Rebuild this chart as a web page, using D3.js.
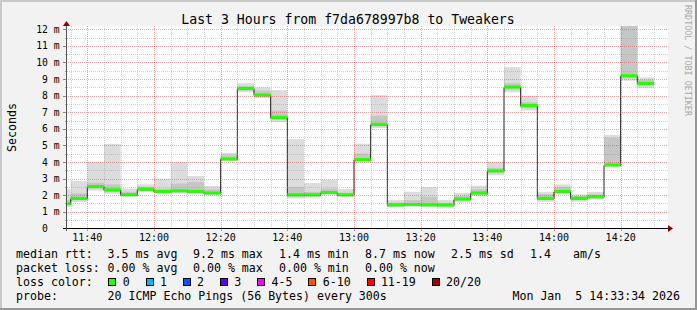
<!DOCTYPE html>
<html><head><meta charset="utf-8">
<script src="https://cdn.jsdelivr.net/npm/d3@7"></script>
<style>
body{margin:0;background:#f2f2f2;}
svg{display:block;}
text{font-family:"DejaVu Sans Mono",monospace;white-space:pre;}
</style>
</head><body>
<svg id="c" width="697" height="310"></svg>
<script>
// ---------- data ----------
const intervalEnds = ["11:35","11:40","11:45","11:50","11:55","12:00","12:05","12:10","12:15","12:20",
  "12:25","12:30","12:35","12:40","12:45","12:50","12:55","13:00","13:05","13:10",
  "13:15","13:20","13:25","13:30","13:35","13:40","13:45","13:50","13:55","14:00",
  "14:05","14:10","14:15","14:20","14:25","14:30"];
const rttMedian = [1.45,1.77,2.49,2.29,2.00,2.33,2.19,2.23,2.20,2.10,
  4.15,8.41,8.01,6.66,1.99,1.99,2.13,1.99,4.11,6.24,
  1.38,1.40,1.38,1.38,1.74,2.10,3.43,8.49,7.37,1.78,
  2.20,1.78,1.87,3.79,9.17,8.71];
const rttMin = [1.30,1.57,2.27,2.08,1.90,2.20,2.10,2.10,2.08,2.00,
  4.05,8.20,7.85,6.40,1.80,1.85,2.00,1.90,3.95,6.05,
  1.27,1.30,1.30,1.20,1.55,1.95,3.20,8.20,7.10,1.60,
  2.05,1.60,1.75,3.70,8.90,8.45];
const rttLow = [1.38,1.68,2.38,2.18,1.95,2.26,2.14,2.17,2.15,2.05,
  4.10,8.30,7.93,6.55,1.90,1.92,2.07,1.95,4.03,6.15,
  1.33,1.35,1.34,1.30,1.65,2.03,3.32,8.35,7.25,1.70,
  2.12,1.70,1.80,3.75,9.05,8.60];
const rttHigh = [1.70,2.10,2.75,2.65,2.20,2.50,2.40,2.70,2.80,2.35,
  4.40,8.55,8.30,7.10,2.50,2.20,2.40,2.15,4.50,6.80,
  1.55,1.70,1.90,1.50,1.95,2.35,3.65,8.75,7.60,2.05,
  2.50,1.95,2.05,5.45,12.20,8.95];
const rttMax = [2.35,2.85,4.00,5.08,2.40,2.65,2.99,4.00,3.15,2.55,
  4.55,8.75,8.50,8.33,5.38,2.73,2.93,2.37,5.10,8.03,
  1.70,2.20,2.49,1.70,2.13,2.57,4.01,9.72,7.99,2.20,
  2.65,2.05,2.19,5.62,12.40,9.10];
const xTickLabels = ["11:40","12:00","12:20","12:40","13:00","13:20","13:40","14:00","14:20"];
const yTickValues = [0,1,2,3,4,5,6,7,8,9,10,11,12];
const yTickLabels = ["0  ","1 m","2 m","3 m","4 m","5 m","6 m","7 m","8 m","9 m","10 m","11 m","12 m"];
const lossLabels = ["0","1","2","3","4-5","6-10","11-19","20/20"];
const lossColors = ["#26ff00","#00b8ff","#0059ff","#5e00ff","#ff00ff","#ff5500","#ff0000","#a00000"];
const titleText = "Last 3 Hours from f7da678997b8 to Tweakers";
const rttLegend = ["median rtt:","3.5 ms avg","9.2 ms max","1.4 ms min","8.7 ms now","2.5 ms sd","1.4","am/s"];
const lossLegend = ["packet loss:","0.00 % avg","0.00 % max","0.00 % min","0.00 % now"];
const probeText = "20 ICMP Echo Pings (56 Bytes) every 300s";
const dateText = "Mon Jan  5 14:33:34 2026";

// ---------- layout ----------
const W = 697, H = 310;
const L = 67, R = 667, T = 26, B = 228;
const parse = d3.utcParse("%Y-%m-%d %H:%M:%S");
const tp = s => parse("2026-01-05 " + (s.length === 5 ? s + ":00" : s));
const x = d3.scaleUtc().domain([tp("11:33:54"), tp("14:33:54")]).range([L, R]);
const y = d3.scaleLinear().domain([0, 12]).range([228.3, 29.3]);
const px = v => Math.round(v) + 0.5;

const svg = d3.select("#c");
// background + frame
svg.append("rect").attr("width", W).attr("height", H).attr("fill", "#f2f2f2");
svg.append("rect").attr("x", 0).attr("y", 0).attr("width", W).attr("height", 2).attr("fill", "#c8c8c8");
svg.append("rect").attr("x", 0).attr("y", 0).attr("width", 2).attr("height", H).attr("fill", "#c8c8c8");
svg.append("rect").attr("x", 0).attr("y", H - 2).attr("width", W).attr("height", 2).attr("fill", "#969696");
svg.append("rect").attr("x", W - 2).attr("y", 0).attr("width", 2).attr("height", H).attr("fill", "#969696");
// canvas
svg.append("rect").attr("x", L).attr("y", T).attr("width", R - L + 1).attr("height", B - T).attr("fill", "#fff");

svg.append("defs").append("clipPath").attr("id", "clip")
  .append("rect").attr("x", L).attr("y", T).attr("width", R - L + 1).attr("height", B - T + 1);

const rows = intervalEnds.map((e, i) => {
  const end = tp(e);
  return {start: d3.utcMinute.offset(end, -5), end, med: rttMedian[i], mn: rttMin[i],
    lo: rttLow[i], hi: rttHigh[i], mx: rttMax[i]};
});

const plot = svg.append("g").attr("clip-path", "url(#clip)");
// smoke
plot.selectAll("rect.outer").data(rows).join("rect")
  .attr("x", d => x(d.start)).attr("width", d => x(d.end) - x(d.start))
  .attr("y", d => y(d.mx)).attr("height", d => y(d.mn) - y(d.mx))
  .attr("fill", "#dcdcdc");
plot.selectAll("rect.inner").data(rows).join("rect")
  .attr("x", d => x(d.start)).attr("width", d => x(d.end) - x(d.start))
  .attr("y", d => y(d.hi)).attr("height", d => y(d.lo) - y(d.hi))
  .attr("fill", "#c6c6c6");

// grid
const grid = svg.append("g").attr("shape-rendering", "crispEdges");
const minorY = d3.range(1, 24, 2).map(v => v / 2);
const minorX = d3.utcMinute.every(5).range(x.domain()[0], x.domain()[1]).filter(t => t.getUTCMinutes() % 20 !== 0);
const majorX = d3.utcMinute.every(20).range(x.domain()[0], x.domain()[1]);
const minC = "rgba(140,140,140,0.38)", majC = "rgba(230,40,40,0.42)";
grid.selectAll("line.mx").data(minorX).join("line")
  .attr("x1", d => px(x(d))).attr("x2", d => px(x(d))).attr("y1", T).attr("y2", B + 2)
  .attr("stroke", minC).attr("stroke-dasharray", "1,1");
grid.selectAll("line.my").data(minorY).join("line")
  .attr("y1", d => px(y(d))).attr("y2", d => px(y(d))).attr("x1", L - 2).attr("x2", R + 1)
  .attr("stroke", minC).attr("stroke-dasharray", "1,1");
grid.selectAll("line.Mx").data(majorX).join("line")
  .attr("x1", d => px(x(d))).attr("x2", d => px(x(d))).attr("y1", T).attr("y2", B + 3)
  .attr("stroke", majC).attr("stroke-dasharray", "1,1");
grid.selectAll("line.My").data(yTickValues.filter(v => v > 0)).join("line")
  .attr("y1", d => px(y(d))).attr("y2", d => px(y(d))).attr("x1", L - 3).attr("x2", R + 1)
  .attr("stroke", majC).attr("stroke-dasharray", "1,1");
// solid tick stubs outside plot
grid.selectAll("line.tx").data(majorX).join("line")
  .attr("x1", d => px(x(d))).attr("x2", d => px(x(d))).attr("y1", B).attr("y2", B + 3)
  .attr("stroke", majC);
grid.selectAll("line.ty").data(yTickValues).join("line")
  .attr("y1", d => px(y(d))).attr("y2", d => px(y(d))).attr("x1", L - 4).attr("x2", L)
  .attr("stroke", "#888");
grid.selectAll("line.tmy").data(minorY).join("line")
  .attr("y1", d => px(y(d))).attr("y2", d => px(y(d))).attr("x1", L - 2).attr("x2", L)
  .attr("stroke", "#aaa");

// median line + loss-colored band
const pts = rows.map(d => [x(d.start), y(d.med)]);
pts.push([x(rows[rows.length - 1].end), y(rows[rows.length - 1].med)]);
plot.append("path").attr("d", d3.line().curve(d3.curveStepAfter)(pts))
  .attr("fill", "none").attr("stroke", "#202020").attr("stroke-width", 1);
plot.selectAll("rect.med").data(rows).join("rect")
  .attr("x", d => x(d.start)).attr("width", d => x(d.end) - x(d.start))
  .attr("y", d => y(d.med) - 2).attr("height", 3)
  .attr("fill", lossColors[0]);

// axes
svg.append("line").attr("x1", L - 4).attr("x2", R + 2).attr("y1", B + 0.5).attr("y2", B + 0.5)
  .attr("stroke", "#000").attr("shape-rendering", "crispEdges");
svg.append("line").attr("x1", L - 0.5).attr("x2", L - 0.5).attr("y1", B + 3).attr("y2", 25)
  .attr("stroke", "#555").attr("shape-rendering", "crispEdges");
svg.append("path").attr("d", `M${R + 1},${B - 3}L${R + 6},${B + 0.5}L${R + 1},${B + 4}Z`).attr("fill", "#8b0000");
svg.append("path").attr("d", `M${L - 4},${26}L${L - 0.5},${21}L${L + 3},${26}Z`).attr("fill", "#8b0000");

// tick labels
svg.selectAll("text.xl").data(xTickLabels).join("text")
  .attr("x", d => x(tp(d))).attr("y", 240.5).attr("text-anchor", "middle")
  .attr("font-size", "10px").attr("fill", "#000").text(d => d);
svg.selectAll("text.yl").data(yTickValues).join("text")
  .attr("x", 59.5).attr("y", d => y(d) + 3.6).attr("text-anchor", "end")
  .attr("font-size", "9.7px").attr("fill", "#000").text((d, i) => yTickLabels[i]);

// title & side texts
svg.append("text").attr("x", 348).attr("y", 23.5).attr("text-anchor", "middle")
  .attr("font-size", "13.2px").attr("fill", "#000").text(titleText);
svg.append("text").attr("transform", "translate(15.5,127.5) rotate(-90)").attr("text-anchor", "middle")
  .attr("font-size", "11.6px").attr("fill", "#000").text("Seconds");
svg.append("text").attr("transform", "translate(684.5,5) rotate(90)")
  .attr("font-size", "8.4px").attr("fill", "#a8a8a8").text("RRDTOOL / TOBI OETIKER");

// legend
const lg = svg.append("g").attr("font-size", "11.6px").attr("fill", "#000");
const rttX = [16, 107.6, 193, 279, 365, 451, 530, 573];
rttLegend.forEach((s, i) => lg.append("text").attr("x", rttX[i]).attr("y", 257.7).text(s));
lossLegend.forEach((s, i) => lg.append("text").attr("x", rttX[i]).attr("y", 271.7).text(s));
lg.append("text").attr("x", 16).attr("y", 285.7).text("loss color:");
let bx = 108.4;
lossLabels.forEach((s, i) => {
  lg.append("rect").attr("x", Math.round(bx) + 0.5).attr("y", 278.5).attr("width", 7).attr("height", 7)
    .attr("fill", lossColors[i]).attr("stroke", "#000").attr("stroke-width", 1);
  lg.append("text").attr("x", bx + 14.3).attr("y", 285.7).text(s);
  bx += 30.2 + s.length * 7.0;
});
lg.append("text").attr("x", 16).attr("y", 300).text("probe:");
lg.append("text").attr("x", 107.6).attr("y", 300).text(probeText);
lg.append("text").attr("x", 680).attr("y", 300).attr("text-anchor", "end").text(dateText);
</script>
</body></html>
